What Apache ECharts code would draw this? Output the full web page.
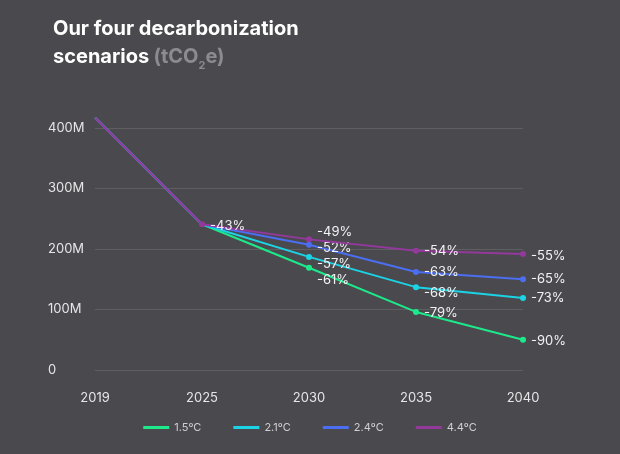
<!DOCTYPE html>
<html>
<head>
<meta charset="utf-8">
<script src="https://cdn.jsdelivr.net/npm/echarts@6/dist/echarts.min.js"></script>
</head>
<body style="margin:0;background:#4a494d;">
<div id="main" style="width:620px;height:454px;"></div>
<script>
var years = ['2019', '2025', '2030', '2035', '2040'];
var names = ['1.5ºC', '2.1ºC', '2.4ºC', '4.4ºC'];
var colors = ['#1de98b', '#1bd3e4', '#4b6ef2', '#93399c'];
var values = [
    [417, 241, 169, 96, 50],
    [417, 241, 187, 137, 119],
    [417, 241, 207, 162, 150],
    [417, 241, 216, 197, 192]
];
var pct = [
    [null, null, '-61%', '-79%', '-90%'],
    [null, null, '-57%', '-68%', '-73%'],
    [null, null, '-52%', '-63%', '-65%'],
    [null, '-43%', '-49%', '-54%', '-55%']
];
// small vertical nudges so the 2030 labels don't collide
var offs = [
    [0, 0, 12, 1, 1],
    [0, 0, 7, 6, 0],
    [0, 0, 3, 0, 0],
    [0, 2, -7, 0, 2]
];

var chart = echarts.init(document.getElementById('main'));
chart.setOption({
    backgroundColor: '#4a494d',
    textStyle: {fontFamily: 'Inter'},
    title: {
        left: 48, top: 10,
        text: '{a|Our four decarbonization}\n{a|scenarios} {b|(tCO}{s|2}{b|e)}',
        textStyle: {
            rich: {
                a: {fontSize: 20, fontWeight: 'bold', color: '#ffffff', lineHeight: 28, fontFamily: 'Inter'},
                b: {fontSize: 20, color: '#8c8b8f', lineHeight: 28, fontFamily: 'Inter'},
                s: {fontSize: 11, color: '#8c8b8f', verticalAlign: 'bottom', padding: [10, 0, 0, 0], fontFamily: 'Inter'}
            }
        }
    },
    grid: {left: 95, right: 97, top: 116, bottom: 84},
    legend: {
        bottom: 16, left: 'center', itemGap: 32, itemWidth: 26, itemHeight: 3,
        icon: 'rect',
        textStyle: {color: '#d0d0d2', fontSize: 11},
        data: names
    },
    xAxis: {
        type: 'category', data: years, boundaryGap: false,
        axisLine: {show: false}, axisTick: {show: false},
        axisLabel: {color: '#e6e6e8', fontSize: 13, margin: 22}
    },
    yAxis: {
        type: 'value', min: 0, max: 420, interval: 100,
        axisLabel: {
            color: '#e6e6e8', fontSize: 13, align: 'left', margin: 47,
            showMaxLabel: false,
            formatter: function (v) { return v === 0 ? '0' : (v > 400 ? '' : v + 'M'); }
        },
        splitLine: {showMaxLine: false, lineStyle: {color: '#5e5d62', width: 1}}
    },
    series: names.map(function (n, i) {
        return {
            name: n, type: 'line', color: colors[i],
            symbol: 'circle', symbolSize: 6,
            lineStyle: {width: 2},
            z: 2 + i,
            data: values[i].map(function (v, j) {
                var item = {value: v};
                if (j === 0) item.symbolSize = 0;
                if (j === 1 && i < 3) item.symbolSize = 0;
                if (pct[i][j]) {
                    item.label = {
                        show: true, position: 'right', formatter: pct[i][j],
                        color: '#f2f2f4', fontSize: 13, offset: [0, offs[i][j]]
                    };
                }
                return item;
            })
        };
    })
});
</script>
</body>
</html>
